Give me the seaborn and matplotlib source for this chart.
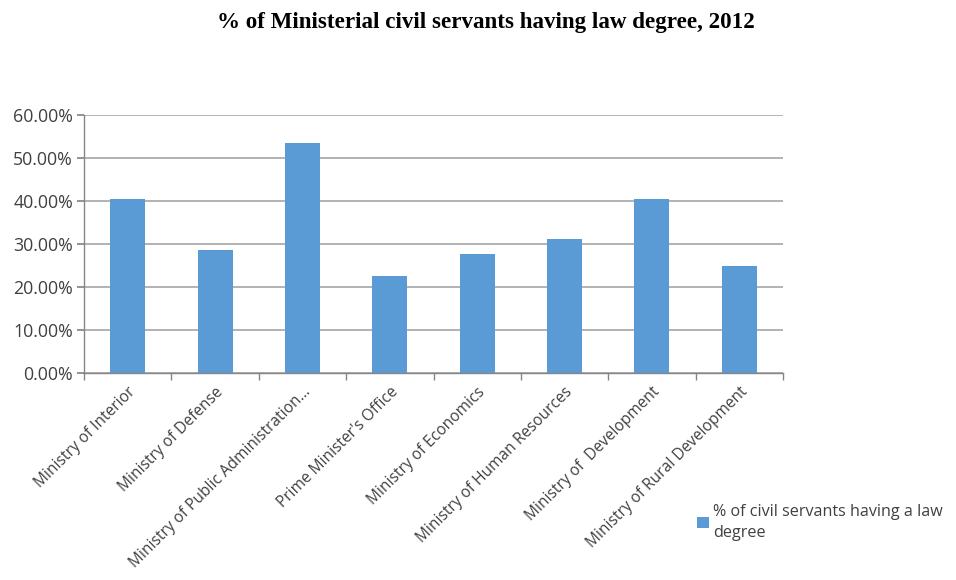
import matplotlib
matplotlib.use("Agg")
import matplotlib.pyplot as plt
import seaborn as sns
import pandas as pd
from matplotlib.ticker import FuncFormatter, FixedLocator
from matplotlib.patches import Patch

categories = ["Ministry of Interior", "Ministry of Defense",
              "Ministry of Public Administration…", "Prime Minister's Office",
              "Ministry of Economics", "Ministry of Human Resources",
              "Ministry of  Development", "Ministry of Rural Development"]
values = [0.405, 0.285, 0.534, 0.225, 0.276, 0.311, 0.405, 0.249]
series_name = "% of civil servants having a law\ndegree"
title = "% of Ministerial civil servants having law degree, 2012"

df = pd.DataFrame({"cat": categories, "val": values})

sns.set_theme(style="white")
plt.rcParams['font.family'] = ['Open Sans', 'DejaVu Sans']

fig = plt.figure(figsize=(9.56, 5.80), dpi=100)
ax = fig.add_axes([0.088, 0.357, 0.731, 0.445])
color = "#5B9BD5"
sns.barplot(data=df, x="cat", y="val", color=color, width=0.4, ax=ax,
            saturation=1, edgecolor="none")

ax.set_ylim(0, 0.6)
ax.set_xlim(-0.5, len(categories) - 0.5)
ax.set_yticks([0, 0.1, 0.2, 0.3, 0.4, 0.5, 0.6])
ax.yaxis.set_major_formatter(FuncFormatter(lambda v, p: f"{v*100:.2f}%"))
ax.yaxis.grid(True, color="#A6A6A6", linewidth=1.2)
ax.set_axisbelow(True)
ax.set_xlabel("")
ax.set_ylabel("")

for s in ["top", "right"]:
    ax.spines[s].set_visible(False)
for s in ["left", "bottom"]:
    ax.spines[s].set_color("#868686")
    ax.spines[s].set_linewidth(1.0)

ax.tick_params(axis="y", length=5, color="#868686", labelsize=12.8, labelcolor="#404040", left=True, pad=3)
ax.tick_params(axis="x", which="major", length=0, labelsize=11.2, labelcolor="#404040", pad=8)
ax.xaxis.set_minor_locator(FixedLocator([i - 0.5 for i in range(len(categories) + 1)]))
ax.tick_params(axis="x", which="minor", length=5, color="#868686", bottom=True)
plt.setp(ax.get_xticklabels(), rotation=45, ha="right", rotation_mode="anchor")

fig.text(0.508, 0.962, title, ha="center", va="center", fontsize=16.6,
         fontweight="bold", family=["Liberation Serif", "DejaVu Serif"], color="black")

leg = fig.legend(handles=[Patch(facecolor=color, edgecolor="none")], labels=[series_name],
                 loc="upper left", bbox_to_anchor=(0.722, 0.143), bbox_transform=fig.transFigure,
                 frameon=False, fontsize=11.6, handlelength=0.75, handleheight=0.75,
                 handletextpad=0.25, borderaxespad=0, labelcolor="#404040")
for t in leg.get_texts():
    t.set_linespacing(1.45)

fig.savefig("out.png", dpi=100, facecolor="white")
